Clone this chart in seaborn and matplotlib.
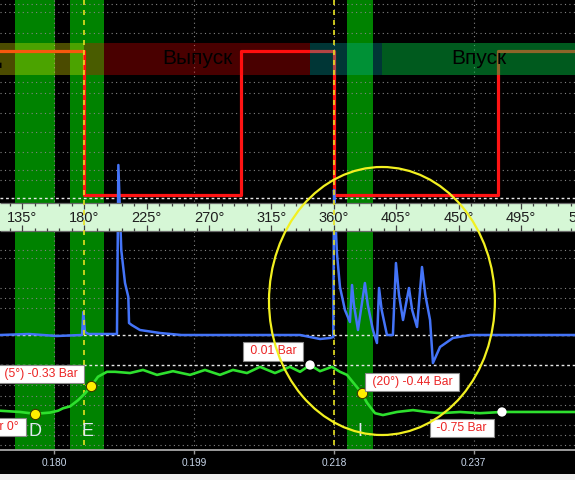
import numpy as np
import matplotlib
matplotlib.use("Agg")
import matplotlib.pyplot as plt
from matplotlib.patches import Rectangle, Ellipse
from matplotlib.collections import LineCollection
import seaborn as sns

# ---------------- data ----------------
ruler_degs = [135, 180, 225, 270, 315, 360, 405, 450, 495, 540]
time_ticks = [0.180, 0.199, 0.218, 0.237]
deg_per_sec = 5310.0
t_ref, deg_ref = 0.218, 360.0

# valve / cam signal (0 = low, 1 = high)
red_deg = [119.1, 179.6, 293.0, 360.4, 478.3, 534.0]
red_state = [1, 0, 1, 0, 1, 1]

# blue trace (V)
blue_deg = [119.1, 140, 160, 178.3, 179.2, 180.4, 183, 190, 203.5, 204.5, 206.6, 209.3,
            211.7, 212.2, 214.1, 220.1, 234.5, 250, 300, 335.6, 350.0, 357.2, 359.6, 360.1,
            361.0, 362.2, 364.4, 368.0, 371.6, 373.1, 374.5, 377.4, 382.4, 384.5, 388.2,
            391.1, 392.6, 394.5, 398.3, 402.6, 404.8, 407.0, 409.9, 414.2, 416.5, 420.0,
            423.6, 426.0, 429.4, 431.5, 436.6, 445.9, 458.2, 534.0]
blue_val = [0.00, 0.01, -0.01, 0.00, 0.23, 0.03, 0.01, 0.01, 0.01, 1.70, 0.85, 0.52,
            0.38, 0.12, 0.10, 0.05, 0.02, 0.00, 0.00, 0.00, -0.04, -0.03, -0.02, 1.45,
            1.20, 0.82, 0.48, 0.25, 0.13, 0.50, 0.30, 0.05, 0.52, 0.30, 0.05,
            -0.08, 0.47, 0.25, 0.00, 0.00, 0.72, 0.40, 0.15, 0.47, 0.25, 0.08,
            0.68, 0.40, 0.15, -0.28, -0.12, -0.03, 0.00, 0.00]

# green trace (Bar)
green_deg = [119.1, 133.5, 144.4, 155.2, 161.0, 164.6, 169.6, 175.4, 180.4, 185.0, 189.8,
             196.3, 202.1, 212.9, 222.3, 232.4, 243.9, 256.2, 267.0, 277.8, 287.2, 297.3,
             306.7, 317.5, 328.3, 335.6, 342.8, 350.0, 358.6, 364.4, 369.5, 373.8, 380.0,
             383.9, 389.7, 395.4, 405.5, 417.1, 427.2, 436.6, 451.0, 465.4, 481.3, 501.5, 534.0]
green_bar = [-0.73, -0.75, -0.78, -0.76, -0.73, -0.69, -0.66, -0.56, -0.45, -0.33, -0.18,
             -0.10, -0.10, -0.12, -0.07, -0.15, -0.09, -0.15, -0.07, -0.15, -0.07, -0.12,
             -0.02, -0.12, -0.02, -0.10, 0.01, -0.09, -0.02, -0.10, -0.15, -0.27, -0.44,
             -0.60, -0.77, -0.80, -0.75, -0.72, -0.75, -0.77, -0.75, -0.77, -0.75, -0.75, -0.75]

# strokes
phase_names = ["Рабочий ход", "Выпуск", "", "Впуск"]
phase_start = [0.0, 180.0, 343.0, 395.0]
phase_end = [180.0, 343.0, 395.0, 534.0]

# markers (green cursor sections)
section_letters = ["D", "E", "I"]
section_start = [129.9, 169.6, 369.2]
section_end = [158.8, 194.5, 388.5]
yellow_mark_deg = [144.4, 185.0, 380.0]
yellow_mark_text = ["-0.78 Bar 0°", "(5°) -0.33 Bar", "(20°) -0.44 Bar"]
white_mark_deg = [342.8, 481.3]
white_mark_text = ["0.01 Bar", "-0.75 Bar"]

# ---------------- figure ----------------
FONT = ["Liberation Sans", "DejaVu Sans"]
plt.rcParams["font.family"] = FONT

fig = plt.figure(figsize=(5.75, 4.8), dpi=100, facecolor="black")
fig.patches.append(Rectangle((0, 0), 1, 6 / 480, transform=fig.transFigure,
                             fc="#f0f0f0", ec="none"))
H = 450.0
X0, X1 = 119.1, 534.0
ax = fig.add_axes([0, 30 / 480, 1, 450 / 480])
ax.set_facecolor("black")
ax.set_xlim(X0, X1)
ax.set_ylim(H, 0)
for s in ["top", "left", "right"]:
    ax.spines[s].set_visible(False)
ax.spines["bottom"].set_color("#a8a8a8")
ax.spines["bottom"].set_linewidth(1.3)
ax.set_yticks([])
tick_pos = [deg_ref + (t - t_ref) * deg_per_sec for t in time_ticks]
ax.set_xticks(tick_pos)
ax.set_xticklabels([f"{t:.3f}" for t in time_ticks])
ax.tick_params(axis="x", colors="#9a9a9a", labelcolor="#c8d6ea", length=3, width=1,
               pad=3, labelsize=7.3)

# green section bands
for a, b in zip(section_start, section_end):
    ax.axvspan(a, b, color="#008200", lw=0, zorder=1)

# grid
grid_rows = [4, 12, 33, 82, 93, 113, 132, 152, 170, 180, 250, 258, 288, 298, 308,
             385, 396, 405, 425, 435, 445]
ax.hlines(grid_rows, X0, X1, colors="#828282", linestyles=(0, (1, 3)), lw=0.8, zorder=2)
ax.vlines(tick_pos, 0, H, colors="#828282", linestyles=(0, (1, 3)), lw=0.8, zorder=2)
ax.hlines([198], X0, X1, colors="#e8e8e8", linestyles=(0, (2, 2)), lw=1.0, zorder=3)

# ---- red trace + stroke band ----
ax_red = ax.twinx()
ax_red.set_axis_off()
ax_red.set_zorder(1)
sns.lineplot(x=red_deg, y=red_state, ax=ax_red, color="#ff1414", lw=2.3,
             drawstyle="steps-post", estimator=None, sort=False)
ax_red.set_ylim(-(H - 195) / 144, 1 + 51 / 144)

band_cols = ["#eaea00", "#ff0000", "#00b4b4", "#00c843"]
band_alpha = [0.32, 0.29, 0.30, 0.45]
for name, a, b, c, al in zip(phase_names, phase_start, phase_end, band_cols, band_alpha):
    ax_red.add_patch(Rectangle((a, 43), b - a, 32, transform=ax.transData,
                               fc=c, alpha=al, ec="none", zorder=5))
    if name:
        if a < X0:
            ax_red.text(X0 + 1.2, 59, name, transform=ax.transData, ha="right",
                        va="center", fontsize=15, color="black", zorder=6)
        else:
            ax_red.text((a + b) / 2, 59, name, transform=ax.transData, ha="center",
                        va="center", fontsize=15, color="black", zorder=6)

# ---- blue trace + ruler ----
ax_blue = ax.twinx()
ax_blue.set_axis_off()
ax_blue.set_zorder(2)
ax_blue.axhline(0, color="#e8e8e8", ls=(0, (2, 2)), lw=1.0, zorder=1)
sns.lineplot(x=blue_deg, y=blue_val, ax=ax_blue, color="#4474f8", lw=1.8,
             estimator=None, sort=False, zorder=3)
ax_blue.set_ylim(-(H - 335) / 100, 335 / 100)

ax_blue.add_patch(Rectangle((X0, 203), X1 - X0, 28, transform=ax.transData,
                            fc="#d6f7d6", ec="none", zorder=5))
border = LineCollection([[(X0, 203), (X1, 203)], [(X0, 231), (X1, 231)]],
                        colors="#6a6a6a", lw=0.9, transform=ax.transData, zorder=6)
ax_blue.add_collection(border, autolim=False)
segs = []
for d in np.arange(117, 545, 9):
    major = d % 45 == 0
    segs.append([(d, 203), (d, 209 if major else 206)])
    segs.append([(d, 231), (d, 225 if major else 228)])
ax_blue.add_collection(LineCollection(segs, colors="#404040", lw=0.9,
                                      transform=ax.transData, zorder=6), autolim=False)
for d in ruler_degs:
    ax_blue.text(d, 218, f"{d}°", transform=ax.transData, ha="center", va="center",
                 fontsize=10.5, color="#1e1e1e", zorder=7)

ydash = LineCollection([[(180, 0), (180, H)], [(360, 0), (360, H)]], colors="#e6e020",
                       linestyles=(0, (3, 3)), lw=1.2, transform=ax.transData, zorder=8)
ax_blue.add_collection(ydash, autolim=False)

# ---- green trace + cursors ----
ax_green = ax.twinx()
ax_green.set_axis_off()
ax_green.set_zorder(3)
ax_green.axhline(0.01, color="#e8e8e8", ls=(0, (2, 2)), lw=1.0, zorder=1)
sns.lineplot(x=green_deg, y=green_bar, ax=ax_green, color="#2ee02e", lw=1.9,
             estimator=None, sort=False, zorder=3)
ax_green.set_ylim(0.01 - (H - 365) / 61.8, 0.01 + 365 / 61.8)

ym = np.interp(yellow_mark_deg, green_deg, green_bar)
wm = np.interp(white_mark_deg, green_deg, green_bar)
sns.scatterplot(x=yellow_mark_deg, y=ym, ax=ax_green, s=55, color="#ffee00",
                edgecolor="#3a3a00", linewidth=0.8, zorder=6)
sns.scatterplot(x=white_mark_deg, y=wm, ax=ax_green, s=45, color="white",
                edgecolor="none", zorder=6)

box = dict(boxstyle="square,pad=0.28", fc="white", ec="#8a8a8a", lw=0.8)
label_pos = [(22.5 / 1.386 + X0, 427, "right"), (148.7, 374, "center"),
             (416.4, 382, "center")]
for (lx, ly, ha), txt in zip(label_pos, yellow_mark_text):
    ax_green.text(lx, ly, " " + txt + " ", transform=ax.transData, ha=ha, va="center",
                  fontsize=8.7, color="#ec2424", bbox=box, zorder=7)
white_pos = [(316.1, 351.5), (452.4, 428)]
for (lx, ly), txt in zip(white_pos, white_mark_text):
    ax_green.text(lx, ly, " " + txt + " ", transform=ax.transData, ha="center",
                  va="center", fontsize=8.7, color="#ec2424", bbox=box, zorder=7)

for a, b, L in zip(section_start, section_end, section_letters):
    ax_green.text((a + b) / 2, 431, L, transform=ax.transData, ha="center", va="center",
                  fontsize=13, color="#dfe8f0", zorder=7)

ax_green.add_patch(Ellipse((394.7, 301), 163, 268, transform=ax.transData, fill=False,
                           ec="#f2f020", lw=1.6, zorder=8))

for a_ in (ax, ax_red, ax_blue, ax_green):
    a_.set_xlim(X0, X1)
    a_.set_xlabel("")
    a_.set_ylabel("")
    leg = a_.get_legend()
    if leg:
        leg.remove()

fig.savefig("out.png", dpi=100, facecolor="black")
